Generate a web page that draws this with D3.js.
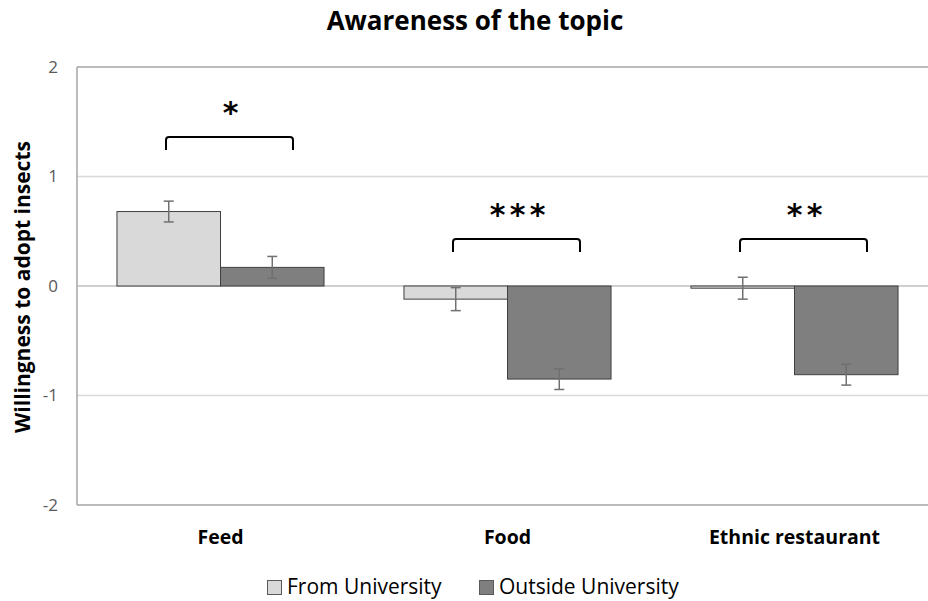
<!DOCTYPE html>
<html><head><meta charset="utf-8">
<script src="https://cdn.jsdelivr.net/npm/d3@7"></script>
<style>body{margin:0;background:#fff} svg{display:block}</style>
</head><body><svg id="chart" width="928" height="601"></svg>
<script>
const categories = ["Feed", "Food", "Ethnic restaurant"];
const seriesNames = ["From University", "Outside University"];
const fromUniversity = [0.68, -0.12, -0.02];
const outsideUniversity = [0.17, -0.85, -0.81];
const fromUniversityErr = [0.095, 0.105, 0.10];
const outsideUniversityErr = [0.10, 0.095, 0.095];
const significance = ["*", "***", "**"];
const bracketLevels = [1.36, 0.43, 0.43];
const yTicks = [-2, -1, 0, 1, 2];
const seriesColors = ["#d9d9d9", "#7f7f7f"];

(function () {
const FONT = "'Open Sans', Lato, sans-serif";
const svg = d3.select("#chart");
const pLeft = 77, pRight = 938, pTop = 67, pBottom = 505;

const y = d3.scaleLinear().domain([-2, 2]).range([pBottom, pTop]);
const x0 = d3.scaleBand().domain(categories).range([pLeft, pRight]).padding(0);
const x1 = d3.scaleBand().domain(seriesNames).range([0, x0.bandwidth()])
  .paddingInner(0).paddingOuter(0.386);
const color = d3.scaleOrdinal().domain(seriesNames).range(seriesColors);

const rows = categories.map((c, i) => ({
  cat: c,
  sig: significance[i],
  level: bracketLevels[i],
  vals: [
    {s: seriesNames[0], v: fromUniversity[i], e: fromUniversityErr[i]},
    {s: seriesNames[1], v: outsideUniversity[i], e: outsideUniversityErr[i]}
  ]
}));

// title
svg.append("text").attr("x", 475).attr("y", 30).attr("text-anchor", "middle")
  .attr("font-family", FONT).attr("font-weight", "bold").attr("font-size", 26)
  .attr("fill", "#000").text("Awareness of the topic");

// gridlines
svg.append("g").selectAll("line").data(yTicks).join("line")
  .attr("x1", pLeft).attr("x2", pRight)
  .attr("y1", d => y(d)).attr("y2", d => y(d))
  .attr("stroke", d => (d === 2 || d === -2) ? "#a6a6a6" : (d === 0 ? "#bfbfbf" : "#d9d9d9"))
  .attr("stroke-width", 1.5);
svg.append("line").attr("x1", pLeft).attr("x2", pLeft).attr("y1", pTop).attr("y2", pBottom)
  .attr("stroke", "#a6a6a6").attr("stroke-width", 1.5);

// y axis
const yAxis = svg.append("g").attr("transform", `translate(${pLeft},0)`)
  .call(d3.axisLeft(y).tickValues(yTicks).tickSize(0).tickPadding(19).tickFormat(d => String(d)));
yAxis.select(".domain").remove();
yAxis.selectAll("text").attr("font-family", FONT).attr("font-size", 17).attr("fill", "#595959");

// y title
svg.append("text").attr("transform", `translate(30,${(pTop + pBottom) / 2 + 1}) rotate(-90)`)
  .attr("text-anchor", "middle").attr("font-family", FONT).attr("font-weight", "bold")
  .attr("font-size", 21).attr("fill", "#000").text("Willingness to adopt insects");

// bars
const groups = svg.append("g").selectAll("g").data(rows).join("g")
  .attr("transform", d => `translate(${x0(d.cat)},0)`);
groups.selectAll("rect").data(d => d.vals).join("rect")
  .attr("x", d => x1(d.s)).attr("width", x1.bandwidth())
  .attr("y", d => y(Math.max(0, d.v))).attr("height", d => Math.abs(y(d.v) - y(0)))
  .attr("fill", d => color(d.s)).attr("stroke", "#404040").attr("stroke-width", 1);

// error bars
const eb = groups.selectAll("g.err").data(d => d.vals).join("g").attr("class", "err")
  .attr("stroke", "#707070").attr("stroke-width", 1.5);
const cx = d => x1(d.s) + x1.bandwidth() / 2;
eb.append("line").attr("x1", cx).attr("x2", cx)
  .attr("y1", d => y(d.v + d.e)).attr("y2", d => y(d.v - d.e));
eb.append("line").attr("x1", d => cx(d) - 5).attr("x2", d => cx(d) + 5)
  .attr("y1", d => y(d.v + d.e)).attr("y2", d => y(d.v + d.e));
eb.append("line").attr("x1", d => cx(d) - 5).attr("x2", d => cx(d) + 5)
  .attr("y1", d => y(d.v - d.e)).attr("y2", d => y(d.v - d.e));

// brackets
const bw = 63.5, off = 9;
groups.append("path")
  .attr("d", d => {
    const c = x0.bandwidth() / 2 + off, yy = y(d.level), a = c - bw, b = c + bw;
    return `M${a},${yy + 13} L${a},${yy + 3} Q${a},${yy} ${a + 3},${yy} L${b - 3},${yy} Q${b},${yy} ${b},${yy + 3} L${b},${yy + 13}`;
  })
  .attr("fill", "none").attr("stroke", "#000").attr("stroke-width", 2);

// significance stars (one glyph per star)
groups.each(function (d) {
  const stars = d.sig.split("");
  const n = stars.length;
  d3.select(this).selectAll("text.star").data(stars).join("text").attr("class", "star")
    .attr("x", (s, j) => x0.bandwidth() / 2 + off + 1 + (j - (n - 1) / 2) * 20)
    .attr("y", y(d.level) - 14)
    .attr("text-anchor", "middle").attr("font-family", "'DejaVu Sans', sans-serif")
    .attr("font-weight", "bold").attr("font-size", 30).attr("fill", "#000")
    .text(s => s);
});

// category labels
svg.append("g").selectAll("text").data(categories).join("text")
  .attr("x", d => x0(d) + x0.bandwidth() / 2).attr("y", 544)
  .attr("text-anchor", "middle").attr("font-family", FONT).attr("font-weight", "bold")
  .attr("font-size", 19.5).attr("fill", "#000").text(d => d);

// legend
const legendX = [267, 479];
const lg = svg.append("g").selectAll("g").data(seriesNames).join("g")
  .attr("transform", (d, i) => `translate(${legendX[i]},0)`);
lg.append("rect").attr("x", 0.5).attr("y", 580.5).attr("width", 14).attr("height", 14)
  .attr("fill", d => color(d)).attr("stroke", "#595959").attr("stroke-width", 1);
lg.append("text").attr("x", 20).attr("y", 594).attr("font-family", FONT)
  .attr("font-size", 21).attr("fill", "#000").text(d => d);
})();
</script></body></html>
